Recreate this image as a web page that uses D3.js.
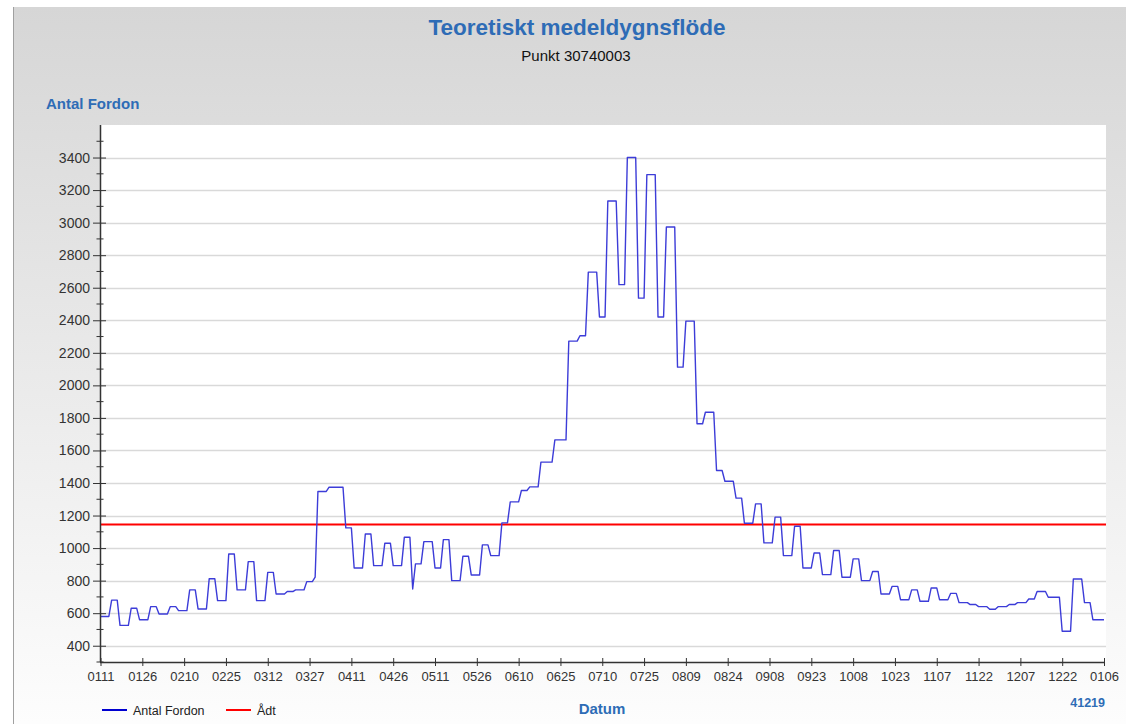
<!DOCTYPE html>
<html>
<head>
<meta charset="utf-8">
<script src="https://cdn.jsdelivr.net/npm/d3@7"></script>
<style>
  body { margin: 0; background: #fff; }
  text { font-family: "Liberation Sans", Arial, sans-serif; }
</style>
</head>
<body>
<div class="canvas"></div>
<script>
// x-axis labels (MMDD), one every 15 days from 0111 to 0106
var xLabels = ["0111", "0126", "0210", "0225", "0312", "0327", "0411", "0426", "0511",
    "0526", "0610", "0625", "0710", "0725", "0809", "0824", "0908", "0923",
    "1008", "1023", "1107", "1122", "1207", "1222", "0106"];
var labelStep = 15;

var yTicks = [400, 600, 800, 1000, 1200, 1400, 1600, 1800, 2000, 2200, 2400, 2600, 2800, 3000, 3200, 3400];
var yMinorTicks = [300, 500, 700, 900, 1100, 1300, 1500, 1700, 1900, 2100, 2300, 2500, 2700, 2900, 3100, 3300, 3500];

// Antal Fordon, one value per day starting 0111 (rows = weeks)
var antalFordon = [
    580, 580, 580, 580, 680, 680, 680,
    525, 525, 525, 525, 630, 630, 630,
    560, 560, 560, 560, 640, 640, 640,
    595, 595, 595, 595, 640, 640, 640,
    616, 616, 616, 616, 743, 743, 743,
    626, 626, 626, 626, 812, 812, 812,
    677, 677, 677, 677, 964, 964, 964,
    743, 743, 743, 743, 917, 917, 917,
    677, 677, 677, 677, 851, 851, 851,
    718, 718, 718, 718, 733, 733, 733,
    743, 743, 743, 743, 794, 794, 794,
    821, 1348, 1348, 1348, 1348, 1374, 1374,
    1374, 1374, 1374, 1374, 1124, 1124, 1124,
    878, 878, 878, 878, 1087, 1087, 1087,
    892, 892, 892, 892, 1030, 1030, 1030,
    892, 892, 892, 892, 1067, 1067, 1067,
    749, 903, 903, 903, 1040, 1040, 1040,
    1040, 878, 878, 878, 1052, 1052, 1052,
    800, 800, 800, 800, 950, 950, 950,
    835, 835, 835, 835, 1020, 1020, 1020,
    954, 954, 954, 954, 1155, 1155, 1155,
    1284, 1284, 1284, 1284, 1354, 1354, 1354,
    1376, 1376, 1376, 1376, 1528, 1528, 1528,
    1528, 1528, 1665, 1665, 1665, 1665, 1665,
    2272, 2272, 2272, 2272, 2305, 2305, 2305,
    2696, 2696, 2696, 2696, 2420, 2420, 2420,
    3133, 3133, 3133, 3133, 2619, 2619, 2619,
    3400, 3400, 3400, 3400, 2536, 2536, 2536,
    3295, 3295, 3295, 3295, 2420, 2420, 2420,
    2973, 2973, 2973, 2973, 2112, 2112, 2112,
    2395, 2395, 2395, 2395, 1764, 1764, 1764,
    1835, 1835, 1835, 1835, 1477, 1477, 1477,
    1411, 1411, 1411, 1411, 1307, 1307, 1307,
    1153, 1153, 1153, 1153, 1272, 1272, 1272,
    1032, 1032, 1032, 1032, 1190, 1190, 1190,
    954, 954, 954, 954, 1134, 1134, 1134,
    878, 878, 878, 878, 970, 970, 970,
    837, 837, 837, 837, 985, 985, 985,
    821, 821, 821, 821, 934, 934, 934,
    800, 800, 800, 800, 856, 856, 856,
    718, 718, 718, 718, 765, 765, 765,
    683, 683, 683, 683, 743, 743, 743,
    673, 673, 673, 673, 755, 755, 755,
    683, 683, 683, 683, 722, 722, 722,
    665, 665, 665, 665, 653, 653, 653,
    640, 640, 640, 640, 624, 624, 624,
    640, 640, 640, 640, 653, 653, 653,
    665, 665, 665, 665, 687, 687, 687,
    733, 733, 733, 733, 698, 698, 698,
    698, 698, 489, 489, 489, 489, 810,
    810, 810, 810, 665, 665, 665, 560,
    560, 560, 560, 560
];

var adt = 1145;

var width = 1126,
    height = 724;

var svg = d3.select(".canvas").append("svg")
    .attr("width", width)
    .attr("height", height);

var plot = {left: 100, top: 125, right: 1106, bottom: 662};

// panel background
var grad = svg.append("defs").append("linearGradient")
    .attr("id", "bg")
    .attr("x1", 0).attr("y1", 0).attr("x2", 0).attr("y2", 1);
grad.append("stop").attr("offset", "0%").attr("stop-color", "#d6d6d6");
grad.append("stop").attr("offset", "100%").attr("stop-color", "#fdfdfd");

svg.append("rect")
    .attr("x", 13).attr("y", 7)
    .attr("width", width - 13).attr("height", height - 7)
    .style("fill", "url(#bg)");
svg.append("line")
    .attr("x1", 13.5).attr("x2", 13.5)
    .attr("y1", 7).attr("y2", height)
    .style("stroke", "#a0a0a0");

svg.append("rect")
    .attr("x", plot.left).attr("y", plot.top)
    .attr("width", plot.right - plot.left)
    .attr("height", plot.bottom - plot.top)
    .style("fill", "#fff");

var x = d3.scaleLinear()
    .domain([0, (xLabels.length - 1) * labelStep])
    .range([100.5, 1104]);

var y = d3.scaleLinear()
    .domain([300, 3600])
    .range([plot.bottom, plot.top]);

// grid
svg.append("g")
    .selectAll("line")
    .data(yTicks)
    .enter().append("line")
    .attr("x1", plot.left).attr("x2", plot.right)
    .attr("y1", function(d) { return Math.round(y(d)) + 0.5; })
    .attr("y2", function(d) { return Math.round(y(d)) + 0.5; })
    .style("stroke", "#d9d9d9")
    .style("stroke-width", 1.5);

// Adt line
svg.append("line")
    .attr("x1", plot.left).attr("x2", plot.right)
    .attr("y1", y(adt)).attr("y2", y(adt))
    .style("stroke", "#ff0000")
    .style("stroke-width", 2.2);

// flow line
var line = d3.line()
    .x(function(d, i) { return x(i); })
    .y(function(d) { return y(d); });

svg.append("path")
    .datum(antalFordon)
    .attr("d", line)
    .style("fill", "none")
    .style("stroke", "#3c3cd8")
    .style("stroke-width", 1.4)
    .style("stroke-linejoin", "round");

// y axis
var yAxis = svg.append("g")
    .attr("transform", "translate(" + plot.left + ",0)")
    .call(d3.axisLeft(y).tickValues(yTicks).tickFormat(d3.format("d"))
        .tickSize(7).tickPadding(3));
yAxis.select(".domain").remove();
yAxis.selectAll(".tick line").attr("x1", 6).attr("x2", -7).style("stroke", "#333");
yAxis.selectAll(".tick text")
    .style("font-size", "14px")
    .style("fill", "#333")
    .style("font-family", "'Liberation Sans', Arial, sans-serif");

svg.append("g")
    .selectAll("line")
    .data(yMinorTicks)
    .enter().append("line")
    .attr("x1", plot.left - 3.5).attr("x2", plot.left + 3.5)
    .attr("y1", function(d) { return y(d); })
    .attr("y2", function(d) { return y(d); })
    .style("stroke", "#333");

svg.append("line")
    .attr("x1", plot.left + 0.5).attr("x2", plot.left + 0.5)
    .attr("y1", plot.top).attr("y2", plot.bottom)
    .style("stroke", "#333")
    .style("stroke-width", 1.5);

// x axis
var xAxis = svg.append("g")
    .attr("transform", "translate(0," + plot.bottom + ")")
    .call(d3.axisBottom(x)
        .tickValues(xLabels.map(function(d, i) { return i * labelStep; }))
        .tickFormat(function(d, i) { return xLabels[i]; })
        .tickSize(4).tickPadding(6));
xAxis.select(".domain").remove();
xAxis.selectAll(".tick line").attr("y1", -4).attr("y2", 4).style("stroke", "#333");
xAxis.selectAll(".tick text")
    .style("font-size", "13px")
    .style("fill", "#333")
    .style("font-family", "'Liberation Sans', Arial, sans-serif");

svg.append("line")
    .attr("x1", plot.left).attr("x2", 1104)
    .attr("y1", plot.bottom + 0.5).attr("y2", plot.bottom + 0.5)
    .style("stroke", "#333")
    .style("stroke-width", 1.5);

// titles
var blue = "#2e6cb6";
svg.append("text")
    .attr("x", 577).attr("y", 35)
    .attr("text-anchor", "middle")
    .style("font-size", "22.5px")
    .style("font-weight", "bold")
    .style("fill", blue)
    .text("Teoretiskt medeldygnsflöde");

svg.append("text")
    .attr("x", 576).attr("y", 61)
    .attr("text-anchor", "middle")
    .style("font-size", "15px")
    .style("fill", "#111")
    .text("Punkt 30740003");

svg.append("text")
    .attr("x", 46).attr("y", 109)
    .style("font-size", "15px")
    .style("font-weight", "bold")
    .style("fill", blue)
    .text("Antal Fordon");

svg.append("text")
    .attr("x", 602).attr("y", 714)
    .attr("text-anchor", "middle")
    .style("font-size", "15px")
    .style("font-weight", "bold")
    .style("fill", blue)
    .text("Datum");

svg.append("text")
    .attr("x", 1105).attr("y", 707)
    .attr("text-anchor", "end")
    .style("font-size", "12.5px")
    .style("font-weight", "bold")
    .style("fill", blue)
    .text("41219");

// legend
var legend = [
    {name: "Antal Fordon", color: "#0000d0", x: 102},
    {name: "Ådt", color: "#ff0000", x: 226}
];
var lg = svg.append("g").selectAll("g")
    .data(legend)
    .enter().append("g")
    .attr("transform", function(d) { return "translate(" + d.x + ",710)"; });
lg.append("line")
    .attr("x1", 0).attr("x2", 25)
    .style("stroke", function(d) { return d.color; })
    .style("stroke-width", 2);
lg.append("text")
    .attr("x", 31).attr("y", 5)
    .style("font-size", "12.5px")
    .style("fill", "#222")
    .text(function(d) { return d.name; });
</script>
</body>
</html>
